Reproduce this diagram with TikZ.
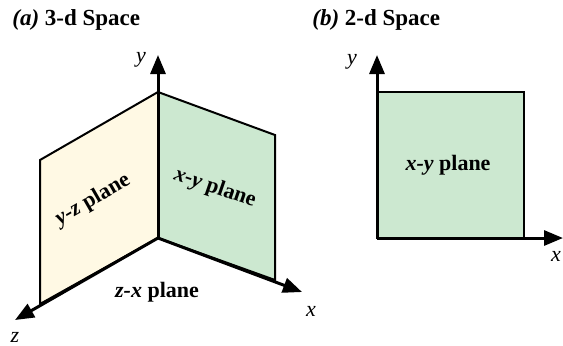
\documentclass[tikz,border=0pt]{standalone}
\usepackage{fontspec}
\setmainfont{Liberation Serif}
\usepackage{xcolor}
\usetikzlibrary{arrows.meta, positioning}

\definecolor{yzfill}{RGB}{255,249,228}
\definecolor{xyfill}{RGB}{204,232,208}

\begin{document}
\begin{tikzpicture}[x=0.5pt, y=-0.5pt, font=\fontsize{11.5}{13}\selectfont,
    axis/.style={line width=1.5pt, -{Triangle[length=9.5pt,width=7.5pt]}},
    plane/.style={draw, line width=1pt, line join=miter},
    lbl/.style={font=\fontsize{11}{13}\selectfont\bfseries},
    axlbl/.style={font=\fontsize{11}{13}\selectfont\itshape}]
      \useasboundingbox (0,0) rectangle (563,345);
      % (a) 3-d space
      \node[anchor=base west, inner sep=0pt] (ta) at (12,25) {\textbf{\textit{(a)} 3-d Space}};
      \coordinate (o) at (158,238);
      \coordinate (otop) at (158,92);
      \coordinate (ytip) at (158,55);
      \coordinate (ztip) at (15,320);
      \coordinate (xtip) at (302,292);
      % the two planes
      \draw[plane, fill=yzfill] (otop) -- (40,160) -- (40,304) -- (o) -- cycle;
      \draw[plane, fill=xyfill] (otop) -- (275,135) -- (275,280) -- (o) -- cycle;
      % axes
      \draw[axis] (o) -- (ytip);
      \draw[axis] (o) -- (ztip);
      \draw[axis] (o) -- (xtip);
      \node[axlbl] (ya) at (141,60) {y};
      \node[axlbl] (za) at (15,337) {z};
      \node[axlbl] (xa) at (311,311) {x};
      % plane labels
      \node[lbl, rotate=30, inner sep=0pt] (yz) at (93,200) {\textit{y-z} plane};
      \node[lbl, rotate=-19, inner sep=0pt] (xy) at (215,188) {\textit{x-y} plane};
      \node[lbl] (zx) at (157,292) {\textit{z-x} plane};

      % (b) 2-d space
      \node[anchor=base west, inner sep=0pt] (tb) at (312,25) {\textbf{\textit{(b)} 2-d Space}};
      \coordinate (ob) at (377,238);
      \coordinate (ybtip) at (377,55);
      \coordinate (xbtip) at (563,238);
      \draw[plane, fill=xyfill] (ob) rectangle (524,92);
      \draw[axis] (ob) -- (ybtip);
      \draw[axis] (ob) -- (xbtip);
      \node[axlbl] (yb) at (352,62) {y};
      \node[axlbl] (xb) at (556,256) {x};
      \node[lbl] (xyb) at (448,165) {\textit{x-y} plane};
    \end{tikzpicture}
\end{document}
